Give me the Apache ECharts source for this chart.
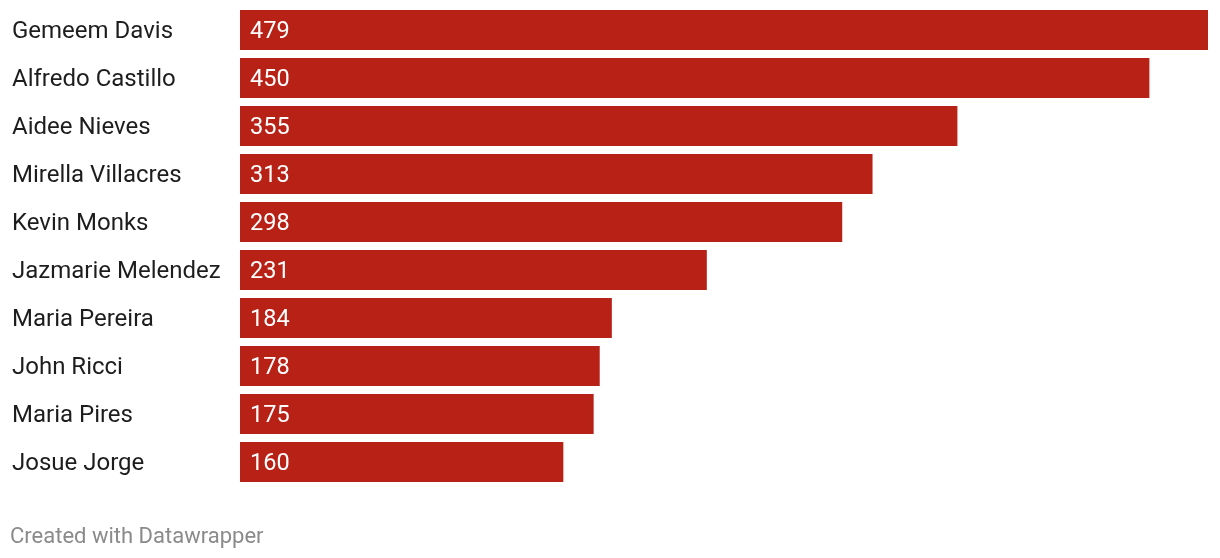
<!DOCTYPE html>
<html>
<head>
<meta charset="utf-8">
<script src="https://cdn.jsdelivr.net/npm/echarts@6/dist/echarts.min.js"></script>
<style>
html,body{margin:0;padding:0;background:#fff;}
#chart{width:1220px;height:558px;}
</style>
</head>
<body>
<div id="chart"></div>
<script>
const names = ["Gemeem Davis","Alfredo Castillo","Aidee Nieves","Mirella Villacres","Kevin Monks","Jazmarie Melendez","Maria Pereira","John Ricci","Maria Pires","Josue Jorge"];
const values = [479,450,355,313,298,231,184,178,175,160];
const footer = "Created with Datawrapper";

const chart = echarts.init(document.getElementById('chart'));
chart.setOption({
  animation: false,
  backgroundColor: '#ffffff',
  grid: {left: 240, right: 12, top: 6, height: 480, containLabel: false},
  xAxis: {type: 'value', min: 0, max: 479, show: false},
  yAxis: {
    type: 'category', data: names, inverse: true,
    axisLine: {show: false}, axisTick: {show: false},
    axisLabel: {align: 'left', margin: 228, color: '#1d1d1d', fontFamily: 'Roboto', fontSize: 24, verticalAlign: 'top', lineHeight: 4}
  },
  series: [{
    type: 'bar', data: values, barCategoryGap: '16.67%',
    itemStyle: {color: '#b82115'},
    label: {show: true, position: 'insideLeft', distance: 10, offset: [0, 2], color: '#ffffff', fontFamily: 'Roboto', fontSize: 23.5}
  }],
  graphic: [{
    type: 'text', left: 10, top: 526,
    style: {text: footer, fill: '#8a8a8a', font: '22px Roboto'}
  }]
});
</script>
</body>
</html>
